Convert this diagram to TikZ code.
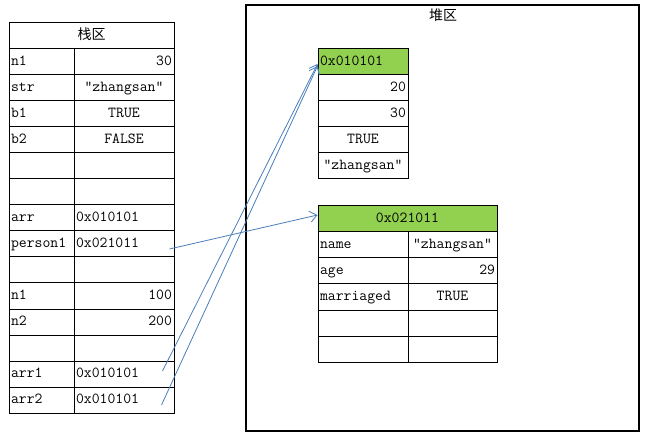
\documentclass[tikz,border=0pt]{standalone}
\usepackage{fontspec}
\newfontfamily\cjk{Noto Sans CJK SC}
\usetikzlibrary{arrows.meta}
\definecolor{hdrgreen}{HTML}{92D050}
\definecolor{ptrblue}{HTML}{4A7EBB}
\tikzset{
    cell/.style={draw, line width=1pt, minimum height=26pt, inner sep=2pt,
        text height=9.5pt, text depth=3pt, font=\ttfamily\fontsize{15.3pt}{17pt}\selectfont},
    keycell/.style={cell, text width=61pt, align=left},
    valcell/.style={cell, text width=96pt, align=left},
    hpcell/.style={cell, text width=86pt, align=left},
    hpval/.style={cell, text width=85pt, align=left},
    title/.style={font=\cjk\fontsize{14pt}{16pt}\selectfont},
    ptr/.style={draw=ptrblue, line width=0.8pt, -{Straight Barb[length=7pt, width=11pt]}}
}
\begin{document}
\begin{tikzpicture}[x=1pt, y=-1pt]
        \useasboundingbox (0, 0) rectangle (645, 438);

        % Stack
        \node[cell, text width=161pt, align=center, title] (stackTitle) at (91.5, 36) {栈区};
        \node[keycell] (n1Key) at (41.5, 62) {n1};
        \node[valcell, align=right] (n1Val) at (124, 62) {30};
        \node[keycell] (strKey) at (41.5, 88) {str};
        \node[valcell, align=center] (strVal) at (124, 88) {“zhangsan”};
        \node[keycell] (b1Key) at (41.5, 114) {b1};
        \node[valcell, align=center] (b1Val) at (124, 114) {TRUE};
        \node[keycell] (b2Key) at (41.5, 140) {b2};
        \node[valcell, align=center] (b2Val) at (124, 140) {FALSE};
        \node[keycell] (e1Key) at (41.5, 166) {};
        \node[valcell] (e1Val) at (124, 166) {};
        \node[keycell] (e2Key) at (41.5, 192) {};
        \node[valcell] (e2Val) at (124, 192) {};
        \node[keycell] (arrKey) at (41.5, 218) {arr};
        \node[valcell] (arrVal) at (124, 218) {0x010101};
        \node[keycell] (personKey) at (41.5, 244) {person1};
        \node[valcell] (personVal) at (124, 244) {0x021011};
        \node[keycell] (e3Key) at (41.5, 270) {};
        \node[valcell] (e3Val) at (124, 270) {};
        \node[keycell] (n1bKey) at (41.5, 296) {n1};
        \node[valcell, align=right] (n1bVal) at (124, 296) {100};
        \node[keycell] (n2Key) at (41.5, 322) {n2};
        \node[valcell, align=right] (n2Val) at (124, 322) {200};
        \node[keycell] (e4Key) at (41.5, 348) {};
        \node[valcell] (e4Val) at (124, 348) {};
        \node[keycell] (arr1Key) at (41.5, 374) {arr1};
        \node[valcell] (arr1Val) at (124, 374) {0x010101};
        \node[keycell] (arr2Key) at (41.5, 400) {arr2};
        \node[valcell] (arr2Val) at (124, 400) {0x010101};

        % Heap
        \draw[line width=2pt] (246, 5) rectangle (639, 431);
        \node[title] (heapTitle) at (443, 15) {堆区};

        % Array object
        \node[hpcell, fill=hdrgreen] (arrHdr) at (363, 62) {0x010101};
        \node[hpcell, align=right] (arrE1) at (363, 88) {20};
        \node[hpcell, align=right] (arrE2) at (363, 114) {30};
        \node[hpcell, align=center] (arrE3) at (363, 140) {TRUE};
        \node[hpcell, align=center] (arrE4) at (363, 166) {“zhangsan”};

        % Person object
        \node[cell, text width=175pt, align=center, fill=hdrgreen] (objHdr) at (407.5, 219) {0x021011};
        \node[hpcell] (nameKey) at (363, 245) {name};
        \node[hpval, align=center] (nameVal) at (452.5, 245) {“zhangsan”};
        \node[hpcell] (ageKey) at (363, 271) {age};
        \node[hpval, align=right] (ageVal) at (452.5, 271) {29};
        \node[hpcell] (marKey) at (363, 297) {marriaged};
        \node[hpval, align=center] (marVal) at (452.5, 297) {TRUE};
        \node[hpcell] (f1Key) at (363, 323) {};
        \node[hpval] (f1Val) at (452.5, 323) {};
        \node[hpcell] (f2Key) at (363, 349) {};
        \node[hpval] (f2Val) at (452.5, 349) {};

        % Connections
        \draw[ptr] ([xshift=-5pt, yshift=-5pt]personVal.east) -- ([yshift=4pt]objHdr.west);
        \draw[ptr] ([xshift=-12pt, yshift=3pt]arr1Val.east) -- ([yshift=-2pt]arrHdr.west);
        \draw[ptr] ([xshift=-13pt, yshift=-5pt]arr2Val.east) -- ([yshift=-4pt]arrHdr.west);
    \end{tikzpicture}
\end{document}
